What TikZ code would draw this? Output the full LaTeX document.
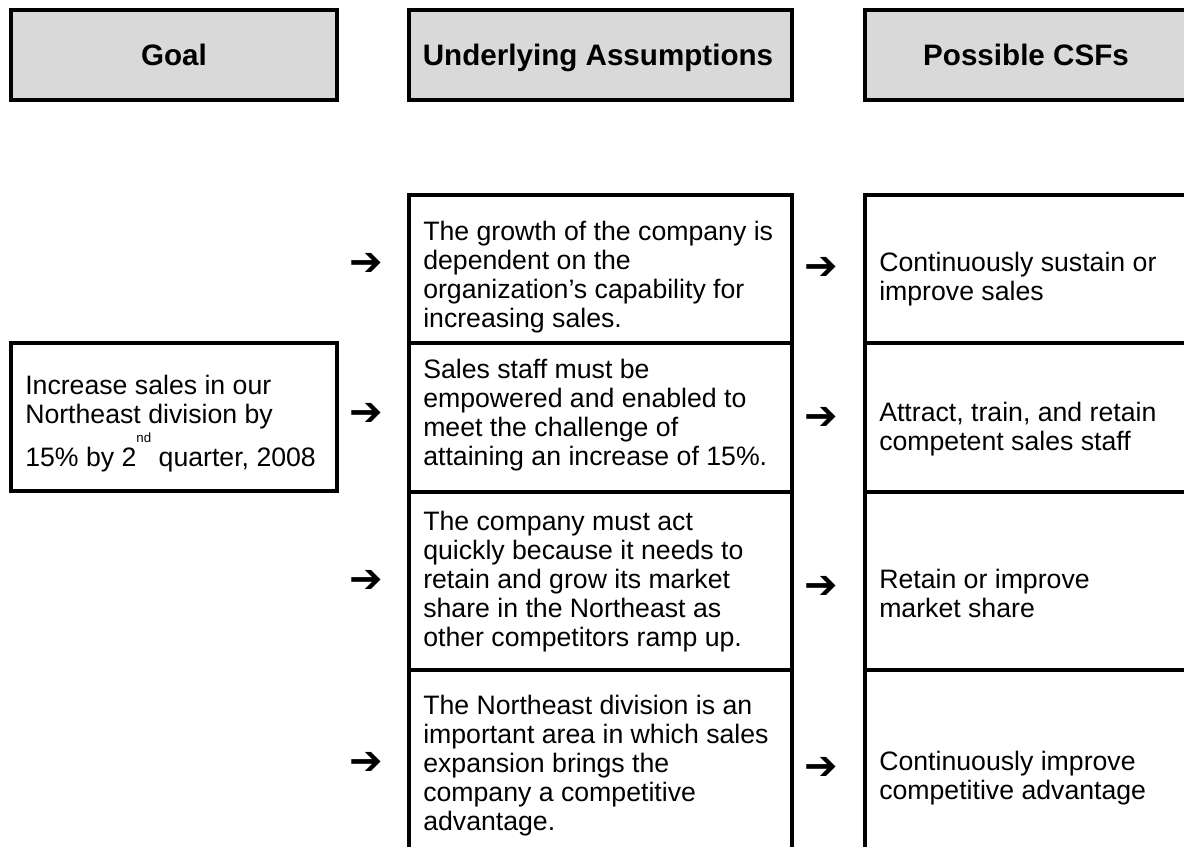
\documentclass[tikz,border=0pt]{standalone}
\usepackage{fontspec}
\setmainfont{Liberation Sans}
\newfontfamily\symfont{DejaVu Sans}
\definecolor{hdrgray}{RGB}{217,217,217}
\begin{document}
\begin{tikzpicture}[x=0.75pt,y=-0.75pt,
  hdr/.style={draw=black, line width=3pt, fill=hdrgray},
  rule/.style={draw=black, line width=3pt},
  hdrtext/.style={anchor=base, inner sep=0pt, font=\fontsize{22.2}{26}\selectfont\bfseries},
  cell/.style={anchor=north west, inner sep=0pt, align=left, font=\fontsize{20}{21.75}\selectfont},
  arr/.style={inner sep=0pt, font=\symfont\fontsize{30}{30}\selectfont}]
\useasboundingbox (0,0) rectangle (1184,846);
\clip (0,0) rectangle (1184,846);
% header boxes
\draw[hdr] (11,10) rectangle (337,100);
\draw[hdr] (409,10) rectangle (792,100);
\draw[hdr] (865,10) rectangle (1192,100);
\node[hdrtext] (hgoal) at (174,65) {Goal};
\node[hdrtext] (hua) at (598,65) {Underlying Assumptions};
\node[hdrtext] (hcsf) at (1026,65) {Possible CSFs};
% goal box
\draw[rule] (11,343) rectangle (337,491);
\node[cell] (goal) at (25,373.7) {\strut Increase sales in our\\Northeast division by\\[10.5pt]15\% by 2\smash{\raisebox{18pt}{\fontsize{10}{10}\selectfont nd}} quarter, 2008};
% middle column rules
\draw[rule] (409,193) -- (409,850);
\draw[rule] (792,193) -- (792,850);
\foreach \yy in {195,343,492,670} \draw[rule] (409,\yy) -- (792,\yy);
% CSF column rules
\draw[rule] (865,193) -- (865,850);
\foreach \yy in {195,343,492,670} \draw[rule] (865,\yy) -- (1192,\yy);
% middle texts
\node[cell] (a1) at (423,219.7) {\strut The growth of the company is\\dependent on the\\organization’s capability for\\increasing sales.};
\node[cell] (a2) at (423,357.7) {\strut Sales staff must be\\empowered and enabled to\\meet the challenge of\\attaining an increase of 15\%.};
\node[cell] (a3) at (423,509.7) {\strut The company must act\\quickly because it needs to\\retain and grow its market\\share in the Northeast as\\other competitors ramp up.};
\node[cell] (a4) at (423,693.7) {\strut The Northeast division is an\\important area in which sales\\expansion brings the\\company a competitive\\advantage.};
% CSF texts
\node[cell] (c1) at (879,250.7) {\strut Continuously sustain or\\improve sales};
\node[cell] (c2) at (879,400.7) {\strut Attract, train, and retain\\competent sales staff};
\node[cell] (c3) at (879,567.7) {\strut Retain or improve\\market share};
\node[cell] (c4) at (879,749.7) {\strut Continuously improve\\competitive advantage};
% arrows
\node[arr] (l1) at (366,264) {➔};
\node[arr] (l2) at (366,414) {➔};
\node[arr] (l3) at (366,581) {➔};
\node[arr] (l4) at (366,763) {➔};
\node[arr] (r1) at (821,268) {➔};
\node[arr] (r2) at (821,418) {➔};
\node[arr] (r3) at (821,587) {➔};
\node[arr] (r4) at (821,768) {➔};
\end{tikzpicture}
\end{document}
